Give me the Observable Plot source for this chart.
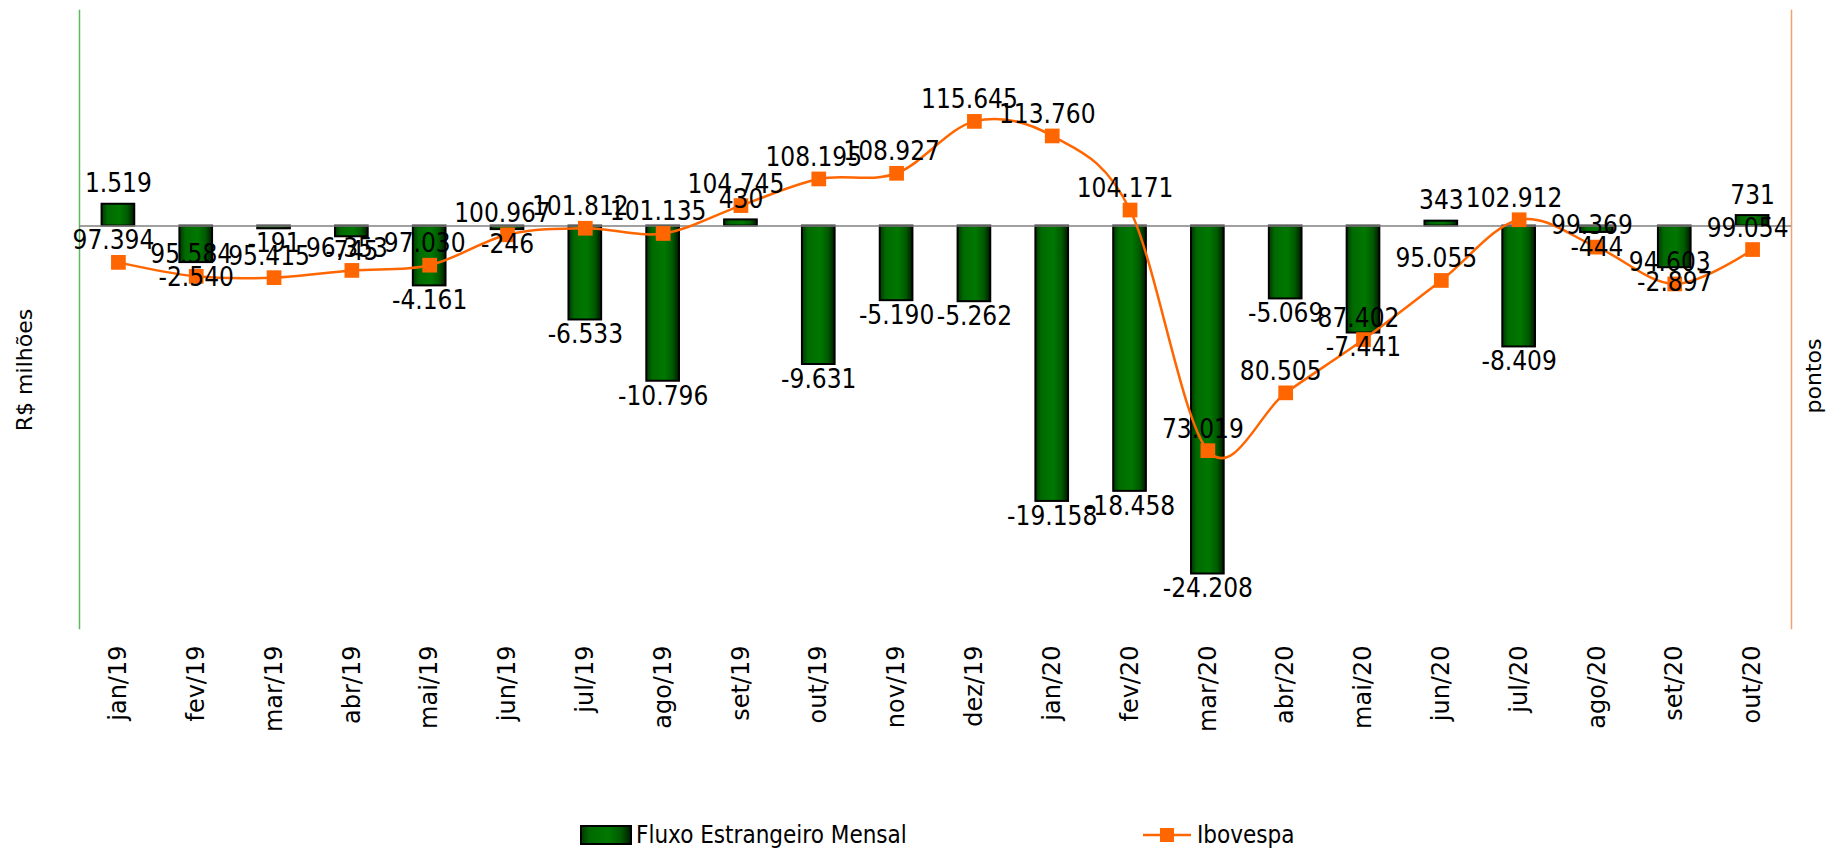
<!DOCTYPE html>
<html>
<head>
<meta charset="utf-8">
<script src="https://cdn.jsdelivr.net/npm/d3@7"></script>
<script src="https://cdn.jsdelivr.net/npm/@observablehq/plot@0.6"></script>
<style>
  html, body { margin: 0; padding: 0; background: #fff; }
  #chart { width: 1829px; }
  #legend { position: relative; width: 1829px; height: 49px; font-family: "DejaVu Sans Condensed", "DejaVu Sans", sans-serif; font-size: 24px; color: #000; }
  #legend .item { position: absolute; top: 21px; display: flex; align-items: center; height: 28px; }
  #legend svg { display: block; margin-right: 4px; }
</style>
</head>
<body>
<div id="chart"></div>
<div id="legend"></div>
<script>
// ---- data ----
const months = ["jan/19","fev/19","mar/19","abr/19","mai/19","jun/19","jul/19","ago/19","set/19","out/19","nov/19","dez/19",
                "jan/20","fev/20","mar/20","abr/20","mai/20","jun/20","jul/20","ago/20","set/20","out/20"];
const fluxo = [1519, -2540, -191, -745, -4161, -246, -6533, -10796, 430, -9631, -5190, -5262,
               -19158, -18458, -24208, -5069, -7441, 343, -8409, -444, -2897, 731];
const ibovespa = [97394, 95584, 95415, 96353, 97030, 100967, 101812, 101135, 104745, 108195, 108927, 115645,
                  113760, 104171, 73019, 80505, 87402, 95055, 102912, 99369, 94603, 99054];
const seriesNames = ["Fluxo Estrangeiro Mensal", "Ibovespa"];
const axisTitles = ["R$ milhões", "pontos"];
const leftDomain = [-28000, 15000];
const rightDomain = [50000, 130000];

// ---- helpers ----
const loc = d3.formatLocale({decimal: ",", thousands: ".", grouping: [3], currency: ["R$", ""], minus: "-"});
const fmt = loc.format(",d");
const toLeft = v => leftDomain[0] + (v - rightDomain[0]) * (leftDomain[1] - leftDomain[0]) / (rightDomain[1] - rightDomain[0]);

const rows = months.map((m, i) => ({month: m, fluxo: fluxo[i], ibov: ibovespa[i]}));

const W = 1829, H = 800;
const ORANGE = "#ff6600";
const labelFont = "DejaVu Sans Condensed, DejaVu Sans, sans-serif";
const gradStops = [["0%", "#003800"], ["18%", "#006a00"], ["55%", "#007800"], ["80%", "#005a00"], ["100%", "#001a00"]];

const svg = Plot.plot({
  width: W,
  height: H,
  marginLeft: 79,
  marginRight: 38,
  marginTop: 10,
  marginBottom: 172,
  style: {fontFamily: "DejaVu Sans, Verdana, sans-serif", background: "#fff"},
  x: {domain: months, paddingInner: 0.58, paddingOuter: 0.29, round: false, label: null},
  y: {domain: leftDomain, axis: null},
  marks: [
    Plot.frame({anchor: "left", stroke: "#5cb85c", strokeWidth: 1.5}),
    Plot.frame({anchor: "right", stroke: "#f2a26e", strokeWidth: 1.5}),
    Plot.barY(rows, {x: "month", y: "fluxo", fill: "url(#barGrad)", stroke: "#000", strokeWidth: 2}),
    Plot.ruleY([0], {stroke: "#808080", strokeWidth: 1.5}),
    Plot.line(rows, {x: "month", y: d => toLeft(d.ibov), stroke: ORANGE, strokeWidth: 2.5, curve: "cardinal", tension: 0}),
    Plot.dot(rows, {x: "month", y: d => toLeft(d.ibov), symbol: "square", r: 8.3, fill: ORANGE, stroke: "none"}),
    Plot.text(rows.filter(d => d.fluxo >= 0), {x: "month", y: "fluxo", text: d => fmt(d.fluxo), lineAnchor: "bottom", dy: -12,
      fontSize: 26, fontFamily: labelFont, fill: "#000"}),
    Plot.text(rows.filter(d => d.fluxo < 0), {x: "month", y: "fluxo", text: d => fmt(d.fluxo), lineAnchor: "top", dy: 5,
      fontSize: 26, fontFamily: labelFont, fill: "#000"}),
    Plot.text(rows, {x: "month", y: d => toLeft(d.ibov), text: d => fmt(d.ibov), lineAnchor: "bottom", dy: -13, dx: -5,
      fontSize: 26, fontFamily: labelFont, fill: "#000"}),
    Plot.axisX({tickSize: 0, tickPadding: 17, tickRotate: -90, fontSize: 24, label: null})
  ]
});

// gradient definition for the bars
const s = d3.select(svg);
const defs = s.insert("defs", ":first-child");
const grad = defs.append("linearGradient").attr("id", "barGrad").attr("x1", "0").attr("x2", "1").attr("y1", "0").attr("y2", "0");
gradStops.forEach(([o, c]) => grad.append("stop").attr("offset", o).attr("stop-color", c));

// axis titles
s.append("text").attr("transform", "translate(26,370) rotate(-90)").attr("text-anchor", "middle").attr("dominant-baseline", "middle")
  .attr("font-family", "DejaVu Sans, Verdana, sans-serif").attr("font-size", 22).attr("fill", "#000").text(axisTitles[0]);
s.append("text").attr("transform", "translate(1815,376) rotate(-90)").attr("text-anchor", "middle").attr("dominant-baseline", "middle")
  .attr("font-family", "DejaVu Sans, Verdana, sans-serif").attr("font-size", 22).attr("fill", "#000").text(axisTitles[1]);

document.getElementById("chart").appendChild(svg);

// legend
const legend = d3.select("#legend");
const it1 = legend.append("div").attr("class", "item").style("left", "580px");
const sw1 = it1.append("svg").attr("width", 52).attr("height", 24);
const d1 = sw1.append("defs").append("linearGradient").attr("id", "legGrad").attr("x1", "0").attr("x2", "1");
gradStops.forEach(([o, c]) => d1.append("stop").attr("offset", o).attr("stop-color", c));
sw1.append("rect").attr("x", 1).attr("y", 3).attr("width", 50).attr("height", 18).attr("fill", "url(#legGrad)").attr("stroke", "#000").attr("stroke-width", 2);
it1.append("span").text(seriesNames[0]);

const it2 = legend.append("div").attr("class", "item").style("left", "1143px");
const sw2 = it2.append("svg").attr("width", 50).attr("height", 24);
sw2.append("line").attr("x1", 0).attr("x2", 48).attr("y1", 12).attr("y2", 12).attr("stroke", ORANGE).attr("stroke-width", 2.5);
sw2.append("rect").attr("x", 17).attr("y", 5).attr("width", 14).attr("height", 14).attr("fill", ORANGE);
it2.append("span").text(seriesNames[1]);
</script>
</body>
</html>
